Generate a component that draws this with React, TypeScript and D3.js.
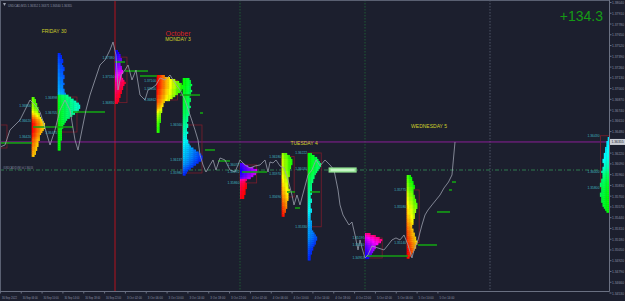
import React from "react";
import * as d3 from "d3";

// ---------- axes ----------
const priceTicks = [1.3804, 1.3791, 1.3778, 1.3765, 1.3752, 1.3739, 1.3726, 1.3713, 1.37, 1.3687, 1.3674, 1.3661, 1.3648, 1.3635, 1.3622, 1.3609, 1.3596, 1.3583, 1.357, 1.3557, 1.3544, 1.3531, 1.3518, 1.3505, 1.3492, 1.3479, 1.3466, 1.3453];
// trading hours since Fri 30 Sep 00:00 (weekend removed)
const timeTickHours = [2, 6, 10, 14, 18, 22, 26, 30, 34, 38, 42, 46, 50, 54, 58, 62, 66, 70, 74, 78, 82, 86];
const timeTickLabels = ["30 Sep 2022", "30 Sep 06:00", "30 Sep 10:00", "30 Sep 14:00", "30 Sep 18:00", "30 Sep 22:00", "3 Oct 02:00", "3 Oct 06:00", "3 Oct 10:00", "3 Oct 14:00", "3 Oct 18:00", "3 Oct 22:00", "4 Oct 02:00", "4 Oct 06:00", "4 Oct 10:00", "4 Oct 14:00", "4 Oct 18:00", "4 Oct 22:00", "5 Oct 02:00", "5 Oct 06:00", "5 Oct 10:00", "5 Oct 14:00"];
const dayLabels = ["FRIDAY 30", "MONDAY 3", "TUESDAY 4", "WEDNESDAY 5"];
const dayLabelHours = [12.3, 36.1, 60.3, 84.3];
const dayLabelPrices = [1.37671, 1.37575, 1.36318, 1.36524];
const monthLabel = "October";
const monthLabelPrice = 1.37635;
const lastPrice = 1.36355;
const levelPrice = 1.36016;

// ---------- close line ----------
const lineT = [1.92, 2.88, 3.84, 4.8, 5.76, 6.72, 7.68, 8.64, 9.6, 10.56, 11.52, 12.48, 13.44, 14.4, 15.36, 16.32, 16.9, 17.66, 18.43, 19.2, 20.16, 21.12, 22.08, 23.04, 23.62, 24.19, 24.58, 25.15, 25.92, 26.5, 27.26, 28.03, 28.8, 29.76, 30.34, 31.1, 31.87, 32.64, 33.6, 34.56, 35.52, 36.48, 37.44, 38.4, 39.36, 39.94, 40.32, 40.9, 41.47, 42.24, 42.82, 43.39, 44.16, 45.12, 46.08, 47.04, 48, 48.96, 49.92, 50.88, 51.84, 52.8, 53.38, 53.76, 54.34, 54.91, 55.68, 56.45, 57.22, 57.98, 58.37, 58.94, 59.52, 60.29, 61.06, 61.82, 62.59, 63.36, 64.32, 65.28, 66.05, 66.82, 67.2, 67.78, 68.35, 68.93, 69.5, 70.08, 70.66, 71.04, 71.42, 72, 72.58, 73.34, 74.5, 75.65, 76.42, 77.18, 77.95, 78.72, 79.49, 80.26, 81.02, 81.41, 82.18, 82.94, 83.52, 84.1, 84.86, 85.63, 86.4, 87.17, 88.03, 88.7, 89.28];
const lineP = [1.36294, 1.36318, 1.365, 1.3656, 1.3662, 1.36741, 1.36862, 1.36802, 1.36717, 1.36524, 1.36318, 1.365, 1.36741, 1.36862, 1.36741, 1.36379, 1.36258, 1.365, 1.36741, 1.36922, 1.37104, 1.37285, 1.37345, 1.37466, 1.37563, 1.37406, 1.36983, 1.37164, 1.37224, 1.37285, 1.37104, 1.37224, 1.36922, 1.36862, 1.36983, 1.37007, 1.37043, 1.37128, 1.37104, 1.37164, 1.37067, 1.36983, 1.36862, 1.36681, 1.365, 1.36379, 1.36198, 1.36077, 1.35992, 1.36077, 1.36137, 1.36016, 1.36161, 1.36137, 1.36016, 1.35992, 1.36137, 1.36077, 1.36041, 1.36065, 1.36077, 1.36137, 1.35992, 1.36113, 1.36101, 1.36137, 1.36065, 1.36041, 1.35896, 1.35714, 1.35594, 1.35714, 1.35594, 1.35775, 1.35956, 1.36016, 1.36137, 1.36065, 1.36137, 1.36077, 1.36016, 1.35775, 1.35594, 1.35473, 1.35412, 1.35352, 1.35388, 1.35231, 1.3505, 1.35171, 1.35074, 1.34953, 1.3499, 1.35098, 1.35074, 1.3505, 1.3511, 1.35171, 1.35195, 1.35171, 1.35231, 1.3511, 1.34953, 1.3505, 1.35171, 1.35352, 1.35473, 1.35533, 1.35594, 1.35654, 1.35714, 1.35799, 1.35871, 1.35956, 1.36355];

// ---------- session market profiles (rows of 0.00024, cells = M15 periods) ----------
const BIN = 0.00024;
const profStart = [8, 13, 24, 32, 37, 48, 56, 61, 72, 80, 85];
const profTop = [1.36898, 1.3743, 1.37466, 1.37164, 1.37128, 1.36101, 1.36222, 1.36222, 1.35255, 1.35956, 1.36415];
const profWidths = [
  [2, 3, 3, 4, 4, 5, 5, 5, 6, 6, 7, 8, 9, 10, 10, 10, 9, 8, 7, 6, 6, 6, 5, 5, 5, 4, 4, 3, 3, 2],
  [2, 3, 3, 4, 4, 3, 4, 5, 5, 4, 4, 5, 5, 4, 4, 5, 4, 4, 5, 5, 6, 8, 10, 12, 14, 16, 17, 17, 16, 15, 13, 11, 9, 7, 6, 5, 4, 4, 3, 3, 3, 3, 3, 3, 2, 2, 2, 2, 2],
  [2, 3, 4, 4, 5, 5, 4, 4, 5, 5, 6, 6, 5, 5, 6, 7, 8, 7, 6, 6, 5, 5, 4, 4, 3, 3, 2],
  [6, 10, 14, 17, 19, 20, 20, 19, 18, 16, 14, 12, 10, 6, 5, 5, 4, 4, 4, 3, 3, 3, 3, 3, 2, 2, 2, 2, 2],
  [5, 6, 6, 7, 6, 6, 7, 6, 6, 5, 6, 6, 5, 5, 6, 5, 5, 5, 5, 4, 4, 4, 3, 4, 4, 3, 3, 4, 3, 3, 3, 4, 4, 5, 6, 8, 10, 12, 14, 15, 15, 14, 12, 10, 8, 6, 4, 3, 2],
  [3, 6, 10, 13, 13, 12, 10, 8, 5, 4, 5, 5, 5, 4, 4, 4, 3, 3],
  [4, 6, 7, 8, 8, 8, 7, 7, 6, 6, 6, 6, 5, 5, 5, 5, 5, 5, 6, 6, 5, 5, 5, 5, 4, 4, 4, 4, 3, 3, 2, 2],
  [3, 5, 7, 8, 9, 10, 10, 9, 8, 7, 6, 5, 5, 4, 4, 3, 3, 3, 3, 3, 3, 2, 2, 3, 3, 2, 2, 2, 3, 3, 2, 2, 2, 2, 3, 3, 3, 3, 3, 4, 5, 6, 7, 7, 6, 6, 5, 4, 4, 3, 3, 2, 2, 2],
  [4, 8, 11, 13, 12, 10, 8, 8, 7, 6, 5, 4, 3],
  [3, 4, 4, 5, 5, 6, 6, 5, 5, 5, 6, 6, 7, 7, 8, 8, 8, 7, 7, 6, 6, 6, 5, 5, 5, 4, 4, 5, 5, 6, 6, 7, 7, 8, 8, 7, 7, 6, 5, 4, 3, 2],
  [1, 1, 2, 2, 2, 3, 3, 3, 4, 4, 4, 5, 5, 4, 4, 5, 5, 6, 5, 5, 5, 6, 6, 7, 7, 6, 6, 6, 7, 7, 6, 6, 6, 5, 5, 4, 3, 2],
];
const profFirst = [
  [16, 15, 15, 14, 14, 13, 12, 10, 8, 6, 4, 2, 1, 0, 0, 0, 0, 0, 1, 1, 2, 3, 3, 4, 4, 5, 5, 6, 6, 7],
  [40, 39, 38, 37, 37, 36, 35, 35, 34, 34, 33, 33, 32, 32, 31, 31, 30, 30, 29, 28, 27, 5, 4, 3, 3, 2, 2, 2, 2, 2, 2, 2, 2, 2, 1, 1, 0, 0, 0, 0, 0, 0, 0, 0, 0, 0, 0, 0, 0],
  [0, 0, 1, 2, 3, 4, 5, 6, 7, 8, 10, 12, 14, 16, 18, 20, 22, 22, 23, 24, 25, 26, 27, 27, 28, 28, 29],
  [0, 0, 0, 0, 0, 0, 0, 1, 1, 1, 2, 2, 3, 3, 4, 5, 6, 8, 10, 12, 13, 14, 15, 16, 17, 17, 18, 18, 18],
  [0, 0, 0, 0, 1, 1, 1, 2, 2, 2, 3, 3, 4, 4, 5, 5, 6, 6, 7, 8, 9, 10, 11, 12, 13, 14, 15, 16, 17, 18, 19, 20, 21, 22, 23, 24, 25, 25, 26, 26, 27, 28, 29, 30, 32, 34, 36, 38, 40],
  [4, 3, 2, 1, 1, 2, 3, 5, 20, 24, 26, 27, 28, 28, 29, 29, 30, 30],
  [14, 13, 13, 12, 12, 12, 12, 12, 12, 11, 11, 10, 10, 9, 9, 8, 8, 7, 7, 6, 6, 5, 5, 4, 4, 3, 3, 2, 2, 1, 1, 0],
  [0, 0, 0, 0, 0, 0, 0, 1, 1, 2, 3, 4, 5, 6, 7, 8, 9, 10, 11, 12, 13, 14, 15, 16, 17, 18, 19, 20, 21, 22, 23, 24, 25, 26, 27, 28, 28, 29, 30, 30, 30, 31, 31, 32, 33, 34, 35, 36, 37, 38, 38, 39, 40, 40],
  [22, 18, 14, 12, 10, 8, 6, 5, 4, 3, 2, 1, 0],
  [17, 17, 16, 16, 15, 15, 14, 14, 13, 12, 12, 11, 11, 10, 10, 9, 9, 8, 8, 8, 7, 7, 6, 6, 5, 5, 4, 4, 3, 3, 3, 2, 2, 2, 1, 1, 1, 0, 0, 0, 0, 0],
  [24, 24, 23, 23, 22, 22, 21, 21, 20, 20, 19, 18, 17, 16, 15, 14, 12, 10, 8, 7, 6, 5, 4, 3, 3, 2, 2, 1, 1, 1, 0, 0, 0, 0, 0, 0, 0, 0],
];
const profRightAligned = [false, false, false, false, false, false, false, false, false, false, true];
const profVAH = [1.368, 1.36898, 1.3738, 1.371, 1.3656, 1.36077, 1.3618, 1.36222, 1.35195, 1.35775, 1.3643];
const profPOC = [1.3662, 1.36705, 1.3715, 1.37, 1.36137, 1.35992, 1.3597, 1.3603, 1.3511, 1.3558, 1.36];
const profVAL = [1.3642, 1.36475, 1.3683, 1.36862, 1.3598, 1.3586, 1.3569, 1.3533, 1.34953, 1.3514, 1.358];
const profBoxHours = [0, 3.7, 2.3, 4, 3.7, 3.2, 2.4, 2.6, 3.3, 2.4, 1.7];

// ---------- POC extension lines ----------
const pocT0 = [1.92, 8.26, 15.94, 24.0, 25.92, 28.8, 36.48, 40.32, 41.28, 43.78, 48.38, 57.02, 58.56, 61.44, 72.19, 82.18, 85.82, 88.7, 88.13];
const pocT1 = [8.06, 15.94, 22.08, 25.92, 30.34, 32.06, 40.32, 40.9, 43.2, 46.08, 53.18, 58.56, 59.52, 63.36, 80.26, 85.82, 88.32, 89.47, 88.7];
const pocP = [1.36343, 1.36536, 1.36717, 1.37321, 1.37212, 1.37152, 1.36922, 1.36705, 1.36258, 1.36125, 1.35992, 1.35751, 1.35557, 1.35751, 1.34977, 1.3511, 1.35509, 1.35871, 1.35775];

const FONT = "'Liberation Sans', 'DejaVu Sans', Arial, sans-serif";

function hueAt(dayHour: number) {
  if (dayHour < 8) return (240 + dayHour * 15) % 360;
  if (dayHour < 13) return (dayHour - 8) * 24;
  return 120 + ((dayHour - 13) * 120) / 11;
}

export default function App() {
  const plotR = 609.5;
  const plotB = 291.5;
  const x = d3.scaleLinear().domain([0, 120]).range([-10, 615]);
  const y = d3.scaleLinear().domain([1.3804, 1.3453]).range([2.5, 293]);
  const cw = x(0.25) - x(0);
  const line = d3
    .line<number>()
    .x((_, i) => x(lineT[i]))
    .y((d) => y(d));

  const cells: React.ReactNode[] = [];
  profStart.forEach((st, pi) => {
    const ws = profWidths[pi];
    const fs = profFirst[pi];
    ws.forEach((w, r) => {
      const y0 = y(profTop[pi] - r * BIN);
      const y1 = y(profTop[pi] - (r + 1) * BIN);
      for (let k = 0; k < w; k++) {
        const period = fs[r] + k;
        const hue = hueAt((st % 24) + period * 0.25);
        const cx = profRightAligned[pi] ? plotR - 0.5 - (k + 1) * cw : x(st) + k * cw;
        cells.push(
          <rect key={`c${pi}-${r}-${k}`} x={cx} y={y0} width={cw + 0.35} height={y1 - y0 + 0.3} fill={`hsl(${hue},100%,50%)`} />
        );
      }
    });
  });

  const fmt = (v: number) => v.toFixed(5);

  return (
    <svg width={625} height={301} style={{ position: "fixed", left: 0, top: 0, background: "#1c1f2e" }} fontFamily={FONT}>
      <defs>
        <clipPath id="plot">
          <rect x={0} y={0} width={plotR} height={plotB} />
        </clipPath>
      </defs>
      <rect x={0} y={0} width={625} height={301} fill="#1c1f2e" />
      <g clipPath="url(#plot)">
        {/* day separators */}
        <line x1={x(24)} x2={x(24)} y1={0} y2={plotB} stroke="#b3121c" strokeWidth={1} />
        <line x1={x(48)} x2={x(48)} y1={0} y2={plotB} stroke="#1f5a34" strokeDasharray="1.5 1.5" />
        <line x1={x(72)} x2={x(72)} y1={0} y2={plotB} stroke="#1f5a34" strokeDasharray="1.5 1.5" />
        <line x1={x(96)} x2={x(96)} y1={0} y2={plotB} stroke="#4d5466" strokeDasharray="1.5 1.5" />
        {/* level line */}
        <line x1={0} x2={plotR} y1={y(levelPrice)} y2={y(levelPrice)} stroke="#2f7a4e" strokeWidth={1} strokeDasharray="4 2 1 2" />
        <text x={3} y={y(levelPrice) - 1.5} fontSize={4} fill="#8d93a6" textLength={30} lengthAdjust="spacingAndGlyphs">#USDCAD(D)(M) lvl.1.36016</text>
        {/* last price line */}
        <line x1={0} x2={plotR} y1={y(lastPrice)} y2={y(lastPrice)} stroke="#8a1f96" strokeWidth={1} />
        {/* value area boxes */}
        {profStart.map((st, i) => {
          const bx = profRightAligned[i] ? plotR - 9 : x(st);
          const bw = profRightAligned[i] ? 9 : x(st + profBoxHours[i]) - x(st);
          return (
            <rect key={`b${i}`} x={bx} y={y(profVAH[i])} width={bw} height={y(profVAL[i]) - y(profVAH[i])} fill="none" stroke="#7c1d2b" strokeWidth={0.8} />
          );
        })}
        <rect x={x(0)} y={y(1.3656)} width={x(3.26) - x(0)} height={y(1.36282) - y(1.3656)} fill="none" stroke="#7c1d2b" strokeWidth={0.8} />
        {/* profiles */}
        {cells}
        {/* POC extension lines */}
        {pocP.map((p, i) => (
          <line key={`p${i}`} x1={x(pocT0[i])} x2={x(pocT1[i])} y1={y(p)} y2={y(p)} stroke="#14a014" strokeWidth={1.6} />
        ))}
        {/* price line */}
        <path d={line(lineP) || ""} fill="none" stroke="#9aa0ad" strokeWidth={0.8} />
        {/* profile labels */}
        {profStart.map((st, i) => {
          const lx = profRightAligned[i] ? plotR - 10 : x(st) - 0.5;
          return [profVAH[i], profPOC[i], profVAL[i]].map((v, j) => (
            <text key={`l${i}-${j}`} x={lx - 12} y={y(v) + 1.5} fontSize={4} fill="#3fb6c0" textLength={12} lengthAdjust="spacingAndGlyphs">
              {fmt(v)}
            </text>
          ));
        })}
        {/* level label box */}
        <rect x={x(65)} y={y(levelPrice) - 2.6} width={x(70.4) - x(65)} height={5.2} fill="#8fe08f" />
        <rect x={x(65.4)} y={y(levelPrice) - 1.2} width={x(70) - x(65.4)} height={2.4} fill="#c8f5c8" />
        {/* day labels */}
        {dayLabels.map((d, i) => (
          <text key={`d${i}`} x={x(dayLabelHours[i])} y={y(dayLabelPrices[i])} fontSize={5} fill="#cfcf2a" textAnchor="middle">
            {d}
          </text>
        ))}
        <text x={x(36.1)} y={y(monthLabelPrice)} fontSize={7} fill="#d62424" textAnchor="middle">
          {monthLabel}
        </text>
        <text x={603} y={21} fontSize={14} fill="#159a15" textAnchor="end">
          +134.3
        </text>
      </g>
      {/* header */}
      <path d="M3,3 L6,3 L4.5,6 Z" fill="#9aa0ad" />
      <text x={8} y={6.5} fontSize={4} fill="#8d93a6" textLength={64} lengthAdjust="spacingAndGlyphs">
        USDCAD,M15  1.36352 1.36371 1.36340 1.36355
      </text>
      {/* frame */}
      <line x1={0} x2={plotR} y1={0.5} y2={0.5} stroke="#5a6072" />
      <line x1={0.5} x2={0.5} y1={0} y2={plotB} stroke="#5a6072" />
      <line x1={plotR} x2={plotR} y1={0} y2={plotB} stroke="#6a7082" />
      <line x1={0} x2={plotR} y1={plotB} y2={plotB} stroke="#6a7082" />
      {/* right axis */}
      {priceTicks.map((v, i) => (
        <g key={`yt${i}`}>
          <line x1={plotR} x2={plotR + 2} y1={y(v)} y2={y(v)} stroke="#6a7082" />
          <text x={612} y={y(v) + 1.5} fontSize={4} fill="#8d93a6" textLength={12} lengthAdjust="spacingAndGlyphs">
            {fmt(v)}
          </text>
        </g>
      ))}
      <rect x={610} y={y(lastPrice) - 3} width={15} height={6} fill="#c9ccd4" />
      <text x={611.5} y={y(lastPrice) + 1.5} fontSize={4} fill="#1c1f2e" textLength={12} lengthAdjust="spacingAndGlyphs">
        {fmt(lastPrice)}
      </text>
      {/* bottom axis */}
      {timeTickHours.map((h, i) => (
        <g key={`xt${i}`}>
          <line x1={x(h)} x2={x(h)} y1={plotB} y2={plotB + 2} stroke="#6a7082" />
          <text x={x(h) + 1.5} y={298.5} fontSize={3.6} fill="#8d93a6" textLength={15} lengthAdjust="spacingAndGlyphs">
            {timeTickLabels[i]}
          </text>
        </g>
      ))}
    </svg>
  );
}
